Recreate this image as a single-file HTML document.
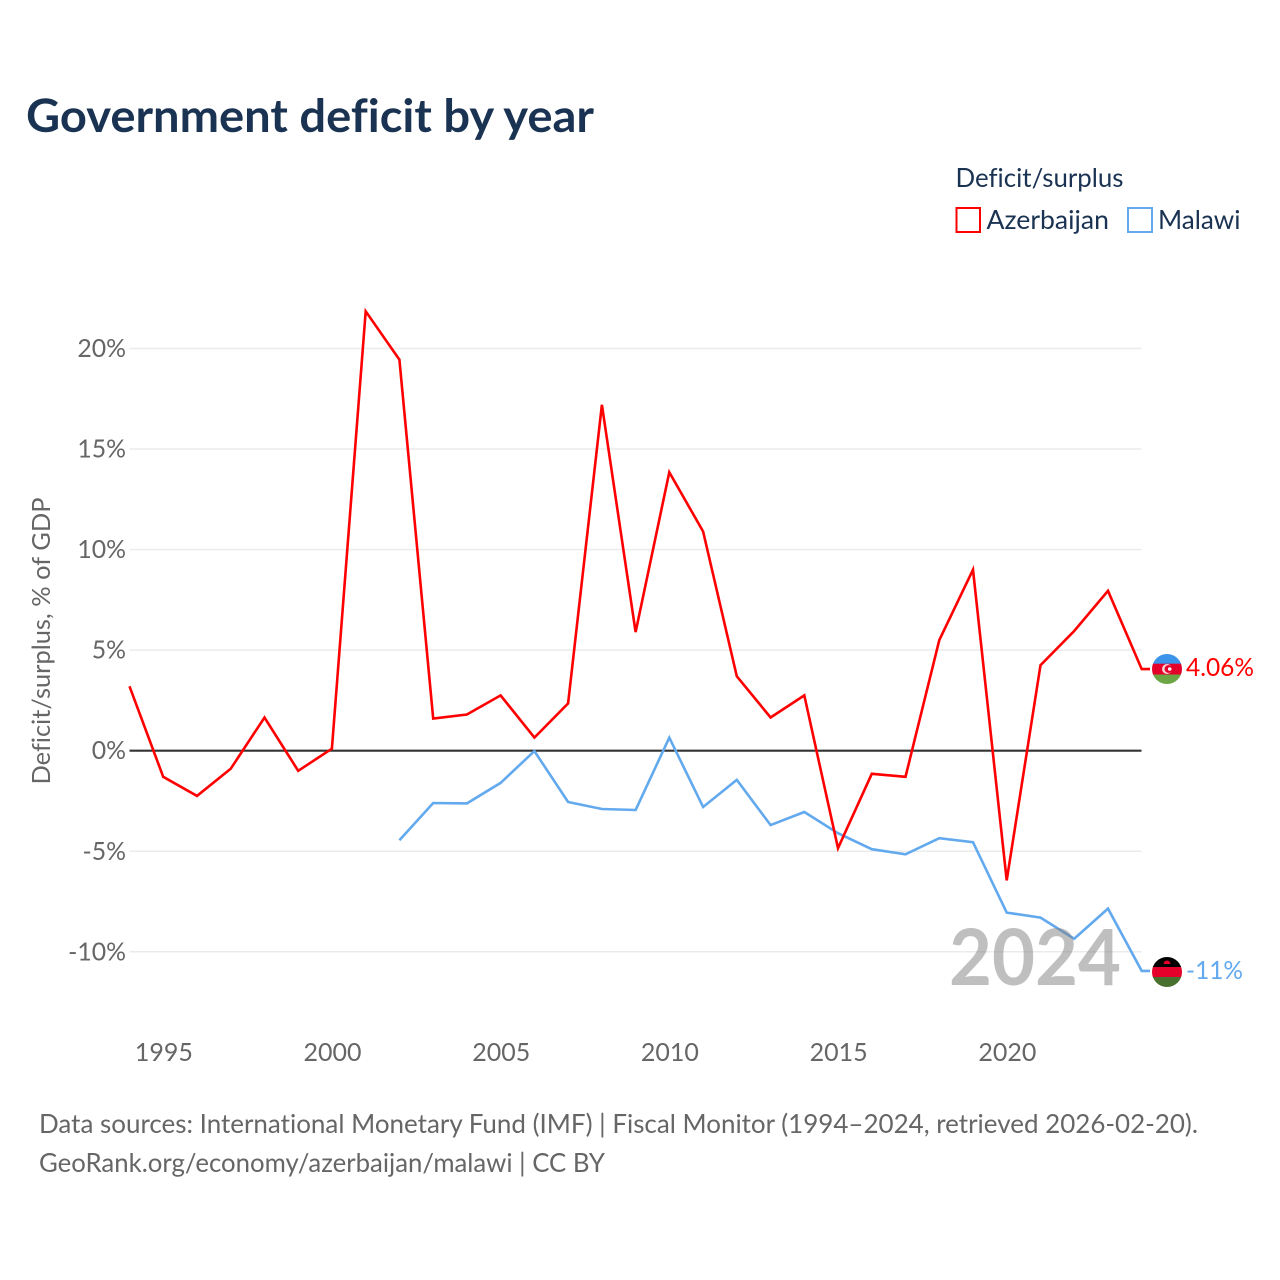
<!DOCTYPE html>
<html lang="en">
<head>
<meta charset="utf-8">
<title>Government deficit by year</title>
<style>
html,body{margin:0;padding:0;background:#fff;}
svg{display:block;}
text{font-family:"Lato","Carlito","Liberation Sans",sans-serif;font-variant-ligatures:none;}
</style>
</head>
<body>
<svg id="chart" xmlns="http://www.w3.org/2000/svg" width="1280" height="1280" viewBox="0 0 1280 1280">
  <defs>
    <clipPath id="flag-clip-az"><circle cx="1167" cy="669" r="15"/></clipPath>
    <clipPath id="flag-clip-mw"><circle cx="1167" cy="972" r="15"/></clipPath>
  </defs>
  <text x="26" y="132" font-size="46" font-weight="700" fill="#1a3352" textLength="568" lengthAdjust="spacingAndGlyphs">Government deficit by year</text>

  <text x="955.5" y="187" font-size="26.5" fill="#1a3352" textLength="168" lengthAdjust="spacingAndGlyphs">Deficit/surplus</text>
  <g>
    <rect x="956.5" y="208" width="23.5" height="24" fill="none" stroke="#ff0000" stroke-width="2"/>
    <text x="986.5" y="229" font-size="26.5" fill="#1a3352" textLength="122.5" lengthAdjust="spacingAndGlyphs">Azerbaijan</text>
  </g>
  <g>
    <rect x="1128" y="208" width="24" height="24" fill="none" stroke="#62a9ee" stroke-width="2"/>
    <text x="1158" y="229" font-size="26.5" fill="#1a3352" textLength="82.5" lengthAdjust="spacingAndGlyphs">Malawi</text>
  </g>

  <text transform="translate(50 641) rotate(-90)" text-anchor="middle" font-size="25.5" fill="#666" textLength="287" lengthAdjust="spacingAndGlyphs">Deficit/surplus, % of GDP</text>

  <g id="grid"></g>
  <g id="y-ticks"></g>
  <g id="x-ticks"></g>
  <g id="series"></g>

  <text x="949" y="985" font-size="78" font-weight="700" fill="#808080" fill-opacity="0.5" textLength="172" lengthAdjust="spacingAndGlyphs">2024</text>

  <g clip-path="url(#flag-clip-az)">
    <rect x="1152" y="654" width="30" height="10" fill="#3b93ea"/>
    <rect x="1152" y="663.7" width="30" height="11" fill="#e4002b"/>
    <rect x="1152" y="674.5" width="30" height="10" fill="#6ca644"/>
    <circle cx="1167" cy="669" r="5" fill="#f6d5d5"/>
    <circle cx="1168.5" cy="669" r="3.9" fill="#e4002b"/>
    <circle cx="1169.7" cy="669" r="1.8" fill="#fff"/>
  </g>
  <g clip-path="url(#flag-clip-mw)">
    <rect x="1152" y="957" width="30" height="10" fill="#000"/>
    <rect x="1152" y="967" width="30" height="10" fill="#e4002b"/>
    <rect x="1152" y="977" width="30" height="10" fill="#48702f"/>
    <path d="M1163.5 964 a3.5 3.5 0 0 1 7 0 z" fill="#e4002b"/>
  </g>
  <text id="label-az" x="1186" y="676" font-size="25.5" fill="#ff0000" textLength="68" lengthAdjust="spacingAndGlyphs"></text>
  <text id="label-mw" x="1186" y="979" font-size="25.5" fill="#62a9ee" textLength="57" lengthAdjust="spacingAndGlyphs"></text>

  <text x="39" y="1133" font-size="26.5" fill="#666" textLength="1159" lengthAdjust="spacingAndGlyphs">Data sources: International Monetary Fund (IMF) | Fiscal Monitor (1994–2024, retrieved 2026-02-20).</text>
  <text x="39" y="1172" font-size="26.5" fill="#666" textLength="566" lengthAdjust="spacingAndGlyphs">GeoRank.org/economy/azerbaijan/malawi | CC BY</text>
</svg>
<script>
const years = [1994,1995,1996,1997,1998,1999,2000,2001,2002,2003,2004,2005,2006,2007,2008,2009,2010,2011,2012,2013,2014,2015,2016,2017,2018,2019,2020,2021,2022,2023,2024];
const azerbaijanValues = [3.2,-1.3,-2.25,-0.9,1.65,-1.0,0.1,21.85,19.45,1.6,1.8,2.75,0.65,2.35,17.2,5.9,13.85,10.9,3.7,1.65,2.75,-4.85,-1.15,-1.3,5.5,9.0,-6.45,4.25,5.95,7.95,4.06];
const malawiValues = [null,null,null,null,null,null,null,null,-4.45,-2.6,-2.62,-1.6,-0.02,-2.55,-2.9,-2.95,0.65,-2.8,-1.45,-3.7,-3.05,-4.1,-4.9,-5.15,-4.35,-4.55,-8.05,-8.3,-9.35,-7.85,-10.95];
const yTickValues = [-10,-5,0,5,10,15,20];
const xTickValues = [1995,2000,2005,2010,2015,2020];
const azerbaijanEndLabel = "4.06%";
const malawiEndLabel = "-11%";

const NS = "http://www.w3.org/2000/svg";
function xScale(year) { return 129.5 + (year - 1994) * 33.74; }
function yScale(value) { return 750.7 - value * 20.11; }

function make(tag, attrs, parent, text) {
  const el = document.createElementNS(NS, tag);
  for (const k in attrs) el.setAttribute(k, attrs[k]);
  if (text !== undefined) el.textContent = text;
  parent.appendChild(el);
  return el;
}

const gridGroup = document.getElementById("grid");
const yTickGroup = document.getElementById("y-ticks");
const xTickGroup = document.getElementById("x-ticks");
const seriesGroup = document.getElementById("series");

yTickValues.forEach(function (v) {
  const line = make("line", {x1: 129.5, x2: 1141.5, y1: yScale(v), y2: yScale(v), stroke: "#ebebeb", "stroke-width": 1.5}, gridGroup);
  
  
  const label = make("text", {x: 126, y: yScale(v) + 8.5, "text-anchor": "end", "font-size": 24.8, fill: "#666"}, yTickGroup, v + "%");
  
  
});

xTickValues.forEach(function (yr) {
  const label = make("text", {x: xScale(yr) + 0.6, y: 1061, "text-anchor": "middle", "font-size": 25, fill: "#666"}, xTickGroup, String(yr));
  
  
});

const zeroLine = make("line", {x1: 129.5, x2: 1141.5, y1: yScale(0), y2: yScale(0), stroke: "#333", "stroke-width": 2.2}, seriesGroup);



function drawSeries(values, color) {
  let pts = [];
  values.forEach(function (v, i) {
    if (v !== null) pts.push(xScale(years[i]).toFixed(1) + "," + yScale(v).toFixed(1));
  });
  const last = values[values.length - 1];
  pts.push("1150," + yScale(last).toFixed(1));
  return make("polyline", {points: pts.join(" "), fill: "none", stroke: color, "stroke-width": 2.6, "stroke-linejoin": "miter"}, seriesGroup);
}

const malawiLine = drawSeries(malawiValues, "#62a9ee");



const azerbaijanLine = drawSeries(azerbaijanValues, "#ff0000");



document.getElementById("label-az").textContent = azerbaijanEndLabel;
document.getElementById("label-mw").textContent = malawiEndLabel;
</script>
</body>
</html>
